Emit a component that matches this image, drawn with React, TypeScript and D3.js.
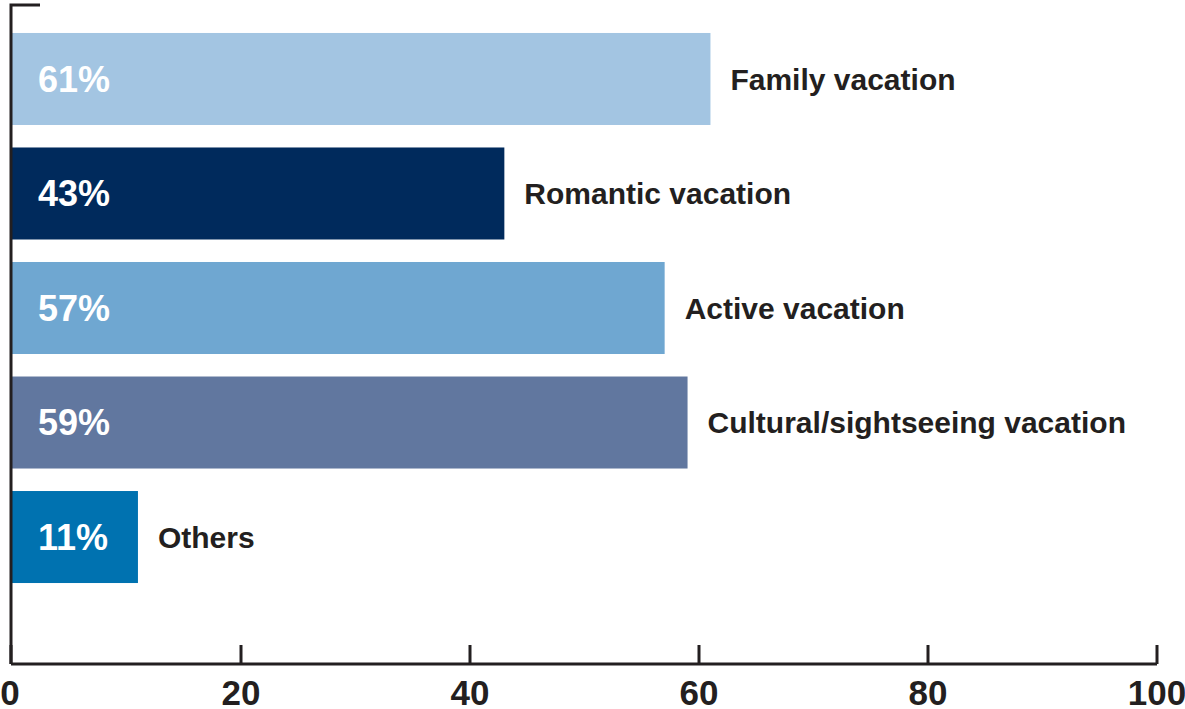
import React from "react";
import * as d3 from "d3";

const categories = ["Family vacation", "Romantic vacation", "Active vacation", "Cultural/sightseeing vacation", "Others"];
const values = [61, 43, 57, 59, 11];
const colors = ["#a3c5e2", "#002a5c", "#6fa7d1", "#61779f", "#0072b0"];
const tickValues = [0, 20, 40, 60, 80, 100];

const W = 1185;
const H = 709;
const FONT = "'Liberation Sans', Arial, sans-serif";
const INK = "#231f20";

export default function App() {
  const x = d3.scaleLinear().domain([0, 100]).range([12, 1157]);
  const y = d3
    .scaleBand<string>()
    .domain(categories)
    .range([21.75, 21.75 + 5 * 114.5])
    .paddingInner(0.1965)
    .paddingOuter(0.098);
  const axisY = 664;
  const axisX = 11;

  return (
    <svg width={W} height={H} style={{ position: "absolute", left: 0, top: 0, background: "#fff" }}>
      {categories.map((c, i) => {
        const y0 = y(c)!;
        const bw = y.bandwidth();
        const cy = y0 + bw / 2;
        return (
          <g key={c}>
            <rect x={x(0)} y={y0} width={x(values[i]) - x(0)} height={bw} fill={colors[i]} />
            <text
              x={38}
              y={cy}
              dy="0.36em"
              fill="#fff"
              fontFamily={FONT}
              fontWeight="bold"
              fontSize={36}
            >
              {values[i]}%
            </text>
            <text
              x={x(values[i]) + 20}
              y={cy}
              dy="0.36em"
              fill={INK}
              fontFamily={FONT}
              fontWeight="bold"
              fontSize={30}
            >
              {c}
            </text>
          </g>
        );
      })}
      {/* y axis line with top stub */}
      <path d={`M${axisX + 29},5 H${axisX} V${axisY}`} fill="none" stroke={INK} strokeWidth={3} />
      {/* x axis */}
      <line x1={axisX} x2={x(100)} y1={axisY} y2={axisY} stroke={INK} strokeWidth={3} />
      {tickValues.map((t) => (
        <g key={t}>
          <line x1={t === 0 ? axisX : x(t)} x2={t === 0 ? axisX : x(t)} y1={645} y2={axisY} stroke={INK} strokeWidth={3} />
          <text
            x={t === 0 ? axisX - 1 : x(t)}
            y={705}
            textAnchor="middle"
            fill={INK}
            fontFamily={FONT}
            fontWeight="bold"
            fontSize={35}
          >
            {t}
          </text>
        </g>
      ))}
    </svg>
  );
}
